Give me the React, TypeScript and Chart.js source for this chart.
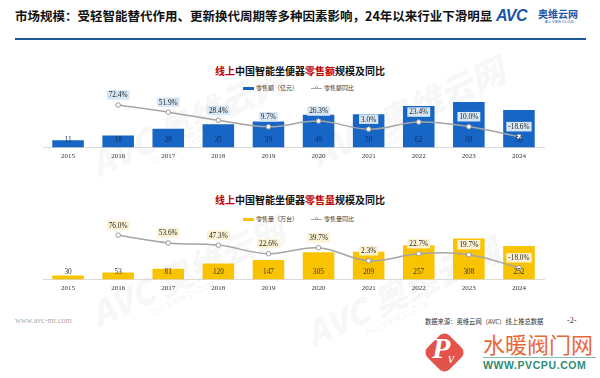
import React, { useEffect, useRef } from "react";
import { Chart, registerables } from "chart.js";

Chart.register(...registerables);

const years = ["2015", "2016", "2017", "2018", "2019", "2020", "2021", "2022", "2023", "2024"];
const salesValue = [11, 18, 28, 35, 39, 49, 50, 62, 68, 56];
const salesValueYoY = [null, 72.4, 51.9, 28.4, 9.7, 26.3, 3.0, 23.4, 10.0, -18.6];
const salesVolume = [30, 53, 81, 120, 147, 205, 209, 257, 308, 252];
const salesVolumeLabels = ["30", "53", "81", "120", "147", "305", "209", "257", "308", "252"];
const salesVolumeYoY = [null, 76.0, 53.6, 47.3, 22.6, 39.7, 2.3, 22.7, 19.7, -18.0];

const SERIF = '"Liberation Serif", "DejaVu Serif", serif';
const CJK = '"Noto Sans CJK SC", "Noto Sans", sans-serif';

const labelPlugin = {
  id: "comboLabels",
  afterDatasetsDraw(chart: any, _args: any, opts: any) {
    const ctx = chart.ctx;
    const barMeta = chart.getDatasetMeta(0);
    const lineMeta = chart.getDatasetMeta(1);
    const base = chart.chartArea.bottom;
    ctx.save();
    ctx.font = "7.3px " + SERIF;
    ctx.textAlign = "center";
    ctx.textBaseline = "middle";
    barMeta.data.forEach((el: any, i: number) => {
      ctx.fillStyle = opts.barLabelColor;
      ctx.fillText(opts.barLabels[i], el.x, base - 8);
    });
    lineMeta.data.forEach((el: any, i: number) => {
      const v = opts.lineValues[i];
      if (v === null || v === undefined) return;
      const txt = v.toFixed(1) + "%";
      const w = ctx.measureText(txt).width + 4;
      const h = 9.5;
      const cy = el.y - 10;
      ctx.fillStyle = opts.boxColor;
      ctx.fillRect(el.x - w / 2, cy - h / 2, w, h);
      ctx.fillStyle = "#222";
      ctx.fillText(txt, el.x, cy + 0.5);
    });
    ctx.restore();
  },
};

type ComboProps = {
  top: number;
  height: number;
  padTop: number;
  bars: number[];
  barLabels: string[];
  yoy: (number | null)[];
  barColor: string;
  barLabelColor: string;
  boxColor: string;
  barMax: number;
  lineMin: number;
  lineMax: number;
};

function ComboChart(p: ComboProps) {
  const ref = useRef<HTMLCanvasElement>(null);
  useEffect(() => {
    if (!ref.current) return;
    const chart = new Chart(ref.current, {
      type: "bar",
      data: {
        labels: years,
        datasets: [
          {
            type: "bar",
            data: p.bars,
            backgroundColor: p.barColor,
            borderWidth: 0,
            barPercentage: 0.63,
            categoryPercentage: 1,
            yAxisID: "y",
            order: 2,
          } as any,
          {
            type: "line",
            data: p.yoy,
            borderColor: "#a5a5a5",
            borderWidth: 1.5,
            tension: 0.4,
            pointRadius: 2.3,
            pointBackgroundColor: "#ffffff",
            pointBorderColor: "#9a9a9a",
            pointBorderWidth: 1,
            yAxisID: "y1",
            order: 1,
          } as any,
        ],
      },
      options: {
        responsive: false,
        animation: false,
        layout: { padding: { left: 43, right: 56, top: p.padTop, bottom: 0 } },
        plugins: {
          legend: { display: false },
          tooltip: { enabled: false },
          comboLabels: {
            barLabels: p.barLabels,
            lineValues: p.yoy,
            barLabelColor: p.barLabelColor,
            boxColor: p.boxColor,
          },
        } as any,
        scales: {
          x: {
            grid: { display: false, drawTicks: false },
            border: { display: true, color: "#d9d9d9", width: 1 },
            ticks: { font: { family: SERIF, size: 7 }, color: "#333", padding: 4 },
          },
          y: { display: false, min: 0, max: p.barMax },
          y1: { display: false, min: p.lineMin, max: p.lineMax },
        },
      },
      plugins: [labelPlugin],
    });
    return () => chart.destroy();
  }, []);
  return (
    <canvas
      ref={ref}
      width={600}
      height={p.height}
      style={{ position: "absolute", left: 0, top: p.top, width: 600, height: p.height }}
    />
  );
}

function ChartTitle({ top, word }: { top: number; word: string }) {
  return (
    <div
      style={{
        position: "absolute",
        left: 0,
        width: 600,
        top,
        textAlign: "center",
        fontFamily: CJK,
        fontWeight: 700,
        fontSize: 10,
        lineHeight: "12px",
        color: "#111",
      }}
    >
      <span style={{ color: "#c00000" }}>线上</span>中国智能坐便器
      <span style={{ color: "#c00000" }}>{word}</span>规模及同比
    </div>
  );
}

function Legend({ top, color, barText, lineText }: { top: number; color: string; barText: string; lineText: string }) {
  const txt: React.CSSProperties = {
    position: "absolute",
    top: top - 4,
    fontFamily: CJK,
    fontSize: 6,
    lineHeight: "8px",
    color: "#333",
    whiteSpace: "nowrap",
  };
  return (
    <>
      <div style={{ position: "absolute", left: 243, top: top - 1.5, width: 11, height: 3, background: color }} />
      <div style={{ ...txt, left: 256 }}>{barText}</div>
      <div style={{ position: "absolute", left: 311, top: top - 0.5, width: 11, height: 1, background: "#a5a5a5" }} />
      <div
        style={{
          position: "absolute",
          left: 314.5,
          top: top - 2,
          width: 3,
          height: 3,
          borderRadius: "50%",
          border: "0.8px solid #9a9a9a",
          background: "#fff",
          boxSizing: "border-box",
        }}
      />
      <div style={{ ...txt, left: 324 }}>{lineText}</div>
    </>
  );
}

function Watermark({ left, top, size }: { left: number; top: number; size: number }) {
  return (
    <div
      style={{
        position: "absolute",
        left,
        top,
        transform: "rotate(-25deg)",
        transformOrigin: "left top",
        color: "rgba(0,0,0,0.05)",
        whiteSpace: "nowrap",
        fontFamily: CJK,
        fontWeight: 900,
        fontSize: size,
        lineHeight: 1,
        fontStyle: "italic",
      }}
    >
      AVC 奥维云网
      <div style={{ fontSize: size * 0.25, fontStyle: "normal", fontWeight: 700, marginLeft: size * 1.6 }}>ALL VIEW CLOUD</div>
    </div>
  );
}

export default function App() {
  return (
    <div
      style={{
        position: "fixed",
        left: 0,
        top: 0,
        width: 600,
        height: 378,
        background: "#fff",
        overflow: "hidden",
      }}
    >
      <Watermark left={85} top={150} size={34} />
      <Watermark left={305} top={140} size={34} />
      <Watermark left={85} top={300} size={34} />
      <Watermark left={300} top={320} size={34} />

      <div
        style={{
          position: "absolute",
          left: 15,
          top: 9,
          fontFamily: CJK,
          fontWeight: 700,
          fontSize: 12.5,
          lineHeight: "14px",
          color: "#111",
          whiteSpace: "nowrap",
        }}
      >
        市场规模：受轻智能替代作用、更新换代周期等多种因素影响，24年以来行业下滑明显
      </div>
      <div
        style={{
          position: "absolute",
          left: 496,
          top: 8,
          fontFamily: '"Liberation Sans", sans-serif',
          fontWeight: 700,
          fontStyle: "italic",
          fontSize: 16,
          lineHeight: "16px",
          color: "#1d55a8",
          letterSpacing: -0.5,
        }}
      >
        AVC
      </div>
      <div
        style={{
          position: "absolute",
          left: 538,
          top: 8,
          fontFamily: CJK,
          fontWeight: 700,
          fontSize: 10,
          lineHeight: "11px",
          color: "#1d55a8",
        }}
      >
        奥维云网
      </div>
      <div
        style={{
          position: "absolute",
          left: 545,
          top: 20,
          fontFamily: '"Liberation Sans", sans-serif',
          fontSize: 3.5,
          lineHeight: "4px",
          color: "#1d55a8",
          whiteSpace: "nowrap",
        }}
      >
        ALL VIEW CLOUD
      </div>
      <div style={{ position: "absolute", left: 15, top: 38, width: 571, height: 2, background: "#1f5599" }} />

      <ChartTitle top={65} word="零售额" />
      <Legend top={88} color="#1565c0" barText="零售额（亿元）" lineText="零售额同比" />
      <ComboChart
        top={84}
        height={80}
        padTop={11.4}
        bars={salesValue}
        barLabels={salesValue.map((v) => String(v))}
        yoy={salesValueYoY}
        barColor="#1766c6"
        barLabelColor="#1b2b4d"
        boxColor="#d7e7f6"
        barMax={78}
        lineMin={-50}
        lineMax={100}
      />

      <ChartTitle top={194} word="零售量" />
      <Legend top={219} color="#f9c300" barText="零售量（万台）" lineText="零售量同比" />
      <ComboChart
        top={216}
        height={80}
        padTop={11.5}
        bars={salesVolume}
        barLabels={salesVolumeLabels}
        yoy={salesVolumeYoY}
        barColor="#f9c300"
        barLabelColor="#333"
        boxColor="#fdf3d4"
        barMax={390}
        lineMin={-52}
        lineMax={98}
      />

      <div
        style={{
          position: "absolute",
          left: 15,
          top: 316,
          fontFamily: SERIF,
          fontSize: 8,
          lineHeight: "10px",
          color: "#aaa",
        }}
      >
        www.avc-mr.com
      </div>
      <div
        style={{
          position: "absolute",
          left: 425,
          top: 317.5,
          fontFamily: CJK,
          fontSize: 6.3,
          lineHeight: "8px",
          color: "#333",
          whiteSpace: "nowrap",
        }}
      >
        数据来源：奥维云网（AVC）线上推总数据
      </div>
      <div
        style={{
          position: "absolute",
          left: 567,
          top: 316,
          fontFamily: SERIF,
          fontSize: 8,
          lineHeight: "10px",
          color: "#333",
        }}
      >
        -2-
      </div>

      <div
        style={{
          position: "absolute",
          left: 429,
          top: 337,
          width: 31,
          height: 31,
          borderRadius: 7,
          background: "#e3524b",
          transform: "rotate(45deg)",
        }}
      />
      <div
        style={{
          position: "absolute",
          left: 432,
          top: 333,
          fontFamily: SERIF,
          fontStyle: "italic",
          fontWeight: 700,
          fontSize: 30,
          lineHeight: "30px",
          color: "#fff",
        }}
      >
        P
      </div>
      <div
        style={{
          position: "absolute",
          left: 448,
          top: 352,
          fontFamily: SERIF,
          fontStyle: "italic",
          fontSize: 14,
          lineHeight: "14px",
          color: "#fff",
        }}
      >
        v
      </div>
      <div
        style={{
          position: "absolute",
          left: 483,
          top: 331,
          fontFamily: CJK,
          fontSize: 22,
          lineHeight: "24px",
          color: "#e8683c",
          whiteSpace: "nowrap",
        }}
      >
        水暖阀门网
      </div>
      <div style={{ position: "absolute", left: 483, top: 357, width: 113, height: 1, background: "#7fbfae" }} />
      <div
        style={{
          position: "absolute",
          left: 483,
          top: 359,
          fontFamily: '"Liberation Sans", sans-serif',
          fontWeight: 700,
          fontSize: 10.5,
          lineHeight: "12px",
          letterSpacing: 0.6,
          color: "#2e8d72",
          whiteSpace: "nowrap",
        }}
      >
        WWW.PVCPU.COM
      </div>
    </div>
  );
}
